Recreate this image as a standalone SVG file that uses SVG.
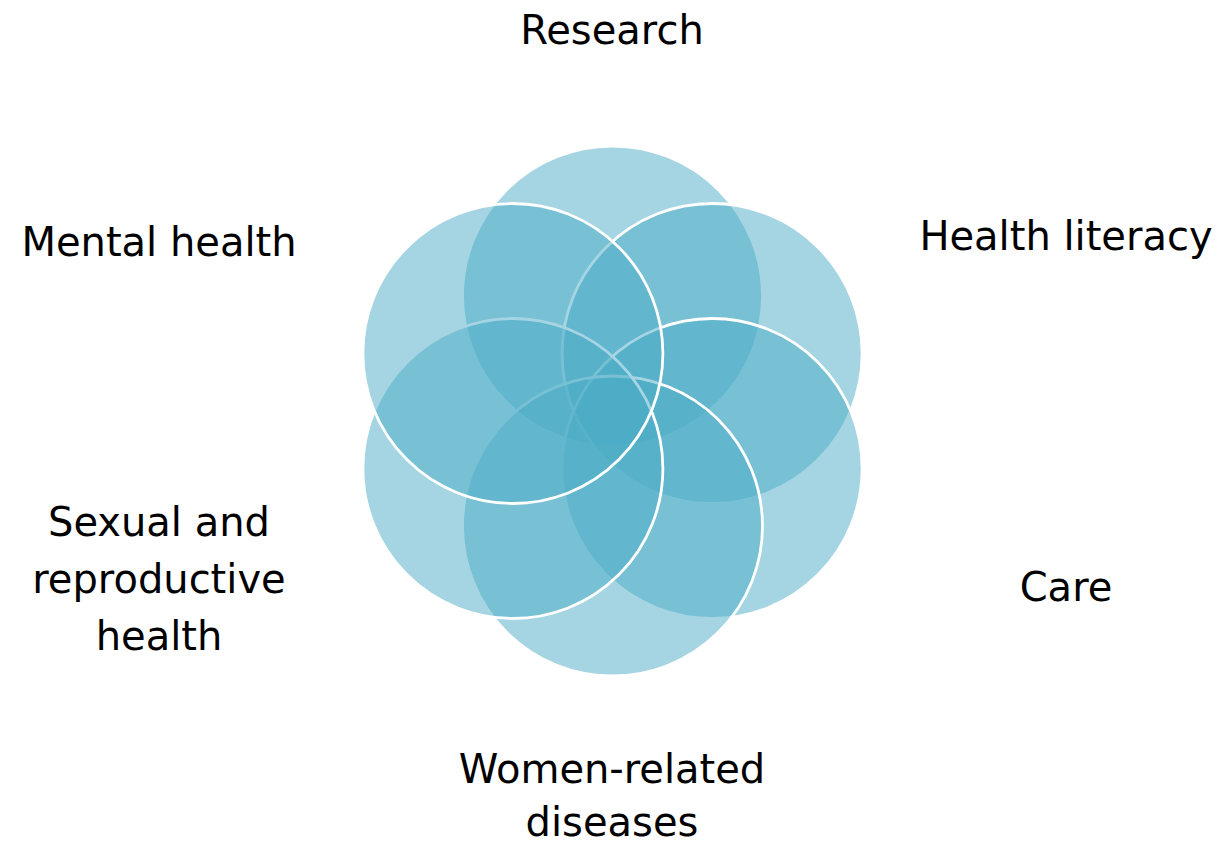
<svg xmlns="http://www.w3.org/2000/svg" width="1220" height="846" viewBox="0 0 1220 846">
<style>
.c{fill:#4BACC6;fill-opacity:0.5;stroke:#ffffff;stroke-width:2.8}
.t{font-family:"DejaVu Sans","Verdana",sans-serif;font-size:40px;fill:#000000;text-anchor:middle}
</style>
<rect width="1220" height="846" fill="#ffffff"/>
<g id="circles">
<g id="c-research"><circle class="c" cx="612.5" cy="296" r="150"/></g>
<g id="c-health-literacy"><circle class="c" cx="712.1" cy="353.5" r="150"/></g>
<g id="c-care"><circle class="c" cx="712.1" cy="468.5" r="150"/></g>
<g id="c-women"><circle class="c" cx="612.5" cy="526" r="150"/></g>
<g id="c-sexual"><circle class="c" cx="512.9" cy="468.5" r="150"/></g>
<g id="c-mental"><circle class="c" cx="512.9" cy="353.5" r="150"/></g>
</g>
<g id="connectors"/>
<g id="labels">
<g id="l-research"><text class="t" x="612" y="44">Research</text></g>
<g id="l-health-literacy"><text class="t" x="1066" y="250">Health literacy</text></g>
<g id="l-care"><text class="t" x="1066" y="601">Care</text></g>
<g id="l-women"><text class="t" x="612" y="783">Women-related</text><text class="t" x="612" y="836">diseases</text></g>
<g id="l-sexual"><text class="t" x="159" y="536">Sexual and</text><text class="t" x="159" y="593">reproductive</text><text class="t" x="159" y="650">health</text></g>
<g id="l-mental"><text class="t" x="159" y="256">Mental health</text></g>
</g>
</svg>
